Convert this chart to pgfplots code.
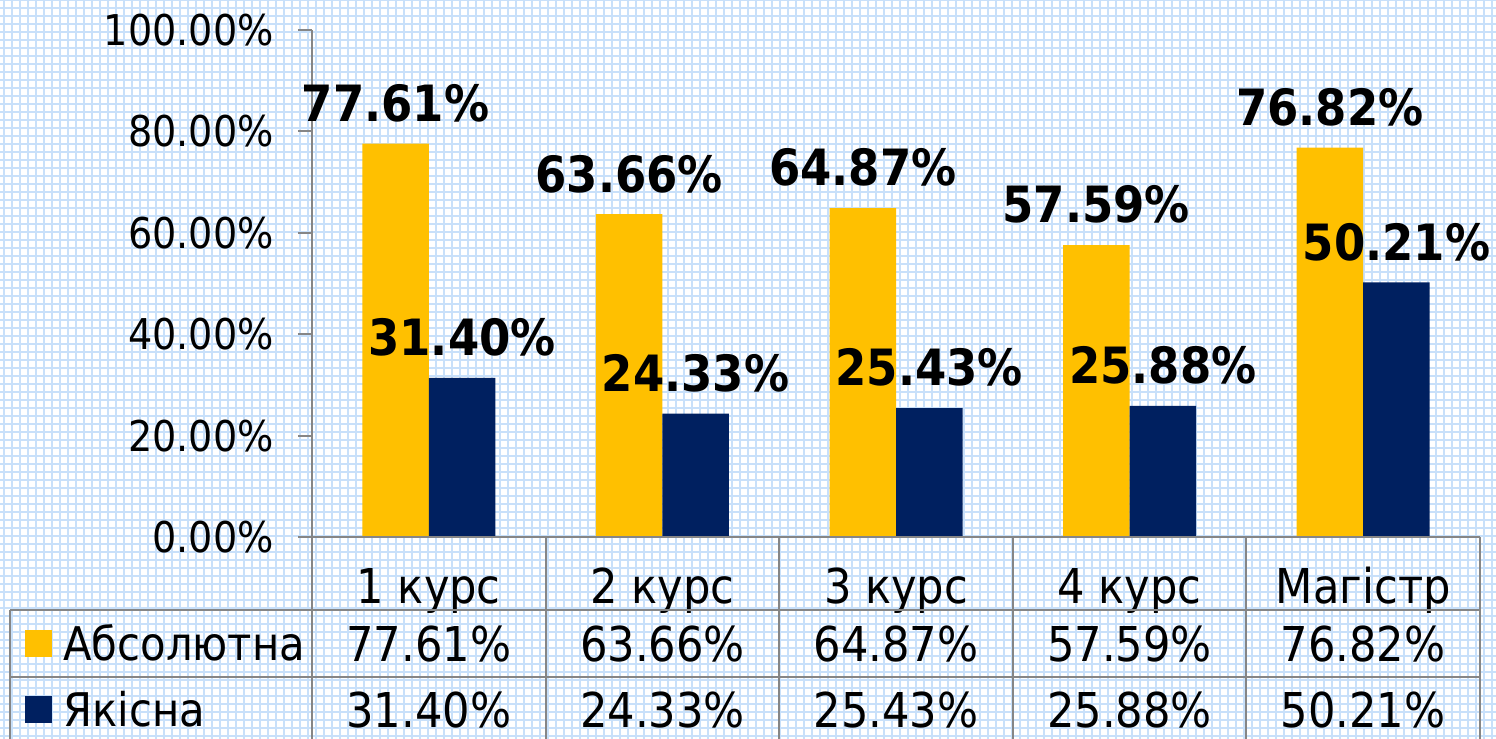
\documentclass[border=0pt]{standalone}
\usepackage{pgfplots}
\pgfplotsset{compat=1.18}
\usepackage{fontspec}
\setmainfont{DejaVu Sans Condensed}
\definecolor{barY}{RGB}{255,192,0}
\definecolor{barN}{RGB}{0,32,96}
\definecolor{tgray}{RGB}{134,134,134}
\definecolor{gridblue}{RGB}{200,224,250}
\begin{document}
\begin{tikzpicture}
\useasboundingbox (0,0) rectangle (748pt,369.5pt);
\clip (0,0) rectangle (748pt,369.5pt);
\fill[white] (0,0) rectangle (748pt,369.5pt);
\begin{scope}[shift={(2pt,1.5pt)}]
\draw[gridblue, line width=1.1pt, step=4pt] (-4pt,-4pt) grid (752pt,372pt);
\end{scope}
\begin{axis}[
  at={(156pt,101pt)}, anchor=south west,
  scale only axis, width=584pt, height=253.5pt,
  xmin=-0.5, xmax=4.5, ymin=0, ymax=100,
  clip=false,
  ybar=0pt, bar width=33.25pt,
  axis y line*=left, axis x line*=bottom,
  axis line style={-, draw=tgray, line width=1pt},
  /pgf/number format/assume math mode=true,
  ytick={0,20,40,60,80,100},
  ytick style={draw=tgray, line width=1pt},
  tick align=outside, major tick length=7pt,
  yticklabel={\pgfmathprintnumber[fixed,fixed zerofill,precision=2]{\tick}\%},
  yticklabel style={font=\fontsize{21.2}{24}\selectfont, anchor=east, inner sep=0pt, xshift=-12pt},
  xtick={0,1,2,3,4},
  xticklabels={1 курс,2 курс,3 курс,4 курс,Магістр},
  xtick style={draw=none},
  xticklabel style={font=\fontsize{24}{28}\selectfont, anchor=base, inner sep=0pt, yshift=-26.5pt},
  nodes near coords={\pgfmathprintnumber[fixed,fixed zerofill,precision=2]{\pgfplotspointmeta}\%},
  every node near coord/.append style={font=\fontsize{25}{28}\selectfont\bfseries, anchor=south, inner sep=0pt, yshift=10.5pt, text=black},
]
\addplot[fill=barY, draw=none] coordinates {(0,77.61) (1,63.66) (2,64.87) (3,57.59) (4,76.82)};
\addplot[fill=barN, draw=none] coordinates {(0,31.40) (1,24.33) (2,25.43) (3,25.88) (4,50.21)};
\end{axis}
% data table
\draw[tgray, line width=1pt] (149pt,101pt) -- (740pt,101pt);
\draw[tgray, line width=1pt] (5pt,64.5pt) -- (740pt,64.5pt);
\draw[tgray, line width=1pt] (5pt,31pt) -- (740pt,31pt);
\draw[tgray, line width=1pt] (5pt,64.5pt) -- (5pt,-5pt);
\foreach \k in {0,...,5} {
  \draw[tgray, line width=1pt] ({156pt+\k*116.8pt},101pt) -- ({156pt+\k*116.8pt},-5pt);
}
\fill[barY] (12.5pt,41pt) rectangle (26pt,54.5pt);
\fill[barN] (12.5pt,8pt) rectangle (26pt,21.5pt);
\node[anchor=base west, inner sep=0pt, font=\fontsize{23.2}{28}\selectfont] at (31.5pt,39pt) {Абсолютна};
\node[anchor=base west, inner sep=0pt, font=\fontsize{23.2}{28}\selectfont] at (31.5pt,6pt) {Якісна};
\foreach \v [count=\i from 0] in {77.61\%,63.66\%,64.87\%,57.59\%,76.82\%} {
  \node[anchor=base, inner sep=0pt, font=\fontsize{24}{28}\selectfont] at ({156pt+(\i+0.5)*116.8pt},38.5pt) {\v};
}
\foreach \v [count=\i from 0] in {31.40\%,24.33\%,25.43\%,25.88\%,50.21\%} {
  \node[anchor=base, inner sep=0pt, font=\fontsize{24}{28}\selectfont] at ({156pt+(\i+0.5)*116.8pt},5.5pt) {\v};
}
\end{tikzpicture}
\end{document}
